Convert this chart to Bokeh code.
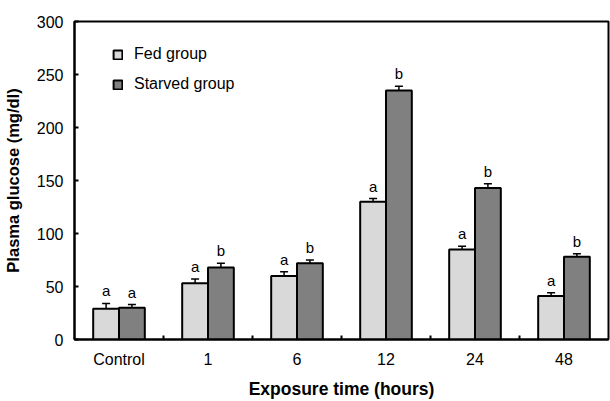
from bokeh.plotting import figure
from bokeh.models import (ColumnDataSource, Whisker, TeeHead, FixedTicker, Range1d, Legend)
from bokeh.transform import dodge
from bokeh.core.properties import value
from bokeh.embed import file_html
from bokeh.resources import INLINE
import numpy as np

categories = ["Control", "1", "6", "12", "24", "48"]
fed = [29, 53, 60, 130, 85, 41]
fed_err = [5, 4, 4, 3, 3, 3]
starved = [30, 68, 72, 235, 143, 78]
starved_err = [3, 4, 3, 4, 4, 3]
fed_letters = ["a", "a", "a", "a", "a", "a"]
starved_letters = ["a", "b", "b", "b", "b", "b"]
y_ticks = [0, 50, 100, 150, 200, 250, 300]

FONT = "Liberation Sans"
FED_COLOR = "#d9d9d9"
STARVED_COLOR = "#808080"
BAR_W = 0.29
OFF = BAR_W / 2

n = len(categories)
xc = np.arange(n) + 0.5
src = ColumnDataSource(dict(
    x=xc,
    fed=fed, fed_up=np.array(fed) + np.array(fed_err), fed_lo=np.array(fed) - np.array(fed_err),
    st=starved, st_up=np.array(starved) + np.array(starved_err), st_lo=np.array(starved) - np.array(starved_err),
    fed_l=fed_letters, st_l=starved_letters,
))

p = figure(width=610, height=401, output_backend="svg", toolbar_location=None,
           x_range=Range1d(0, n), y_range=Range1d(0, 300),
           min_border_left=74, min_border_right=2, min_border_top=21, min_border_bottom=62)
p.xgrid.visible = False
p.ygrid.visible = False
p.outline_line_color = "black"
p.outline_line_width = 2
p.background_fill_color = "white"
p.border_fill_color = "white"

r1 = p.vbar(x=dodge("x", -OFF), top="fed", width=BAR_W, bottom=0, source=src,
            fill_color=FED_COLOR, line_color="black", line_width=2)
r2 = p.vbar(x=dodge("x", OFF), top="st", width=BAR_W, bottom=0, source=src,
            fill_color=STARVED_COLOR, line_color="black", line_width=2)

for xs, up, lo in [(dodge("x", -OFF), "fed_up", "fed_lo"), (dodge("x", OFF), "st_up", "st_lo")]:
    w = Whisker(source=src, base=xs, upper=up, lower=lo, line_width=1.5, line_color="black",
                upper_head=TeeHead(size=8, line_width=1.5, line_color="black"),
                lower_head=TeeHead(size=8, line_width=1.5, line_color="black"))
    p.add_layout(w)

p.text(x=dodge("x", -OFF), y="fed_up", text="fed_l", source=src, text_align="center",
       text_baseline="bottom", y_offset=-4, text_font=value(FONT), text_font_size="15px", text_color="black")
p.text(x=dodge("x", OFF), y="st_up", text="st_l", source=src, text_align="center",
       text_baseline="bottom", y_offset=-4, text_font=value(FONT), text_font_size="15px", text_color="black")

# axes
xa = p.xaxis[0]
xa.ticker = FixedTicker(ticks=list(xc), minor_ticks=list(np.arange(1, n)))
xa.major_label_overrides = {float(v): c for v, c in zip(xc, categories)}
xa.major_tick_line_color = None
xa.minor_tick_in = 4
xa.minor_tick_out = 0
xa.minor_tick_line_width = 2
xa.minor_tick_line_color = "black"
xa.axis_line_width = 2
xa.axis_line_color = "black"
xa.major_label_text_font = FONT
xa.major_label_text_font_size = "16px"
xa.major_label_text_color = "black"
xa.major_label_standoff = 5
xa.axis_label = "Exposure time (hours)"
xa.axis_label_text_font = FONT
xa.axis_label_text_font_size = "17.5px"
xa.axis_label_text_font_style = "bold"
xa.axis_label_text_color = "black"
xa.axis_label_standoff = 8

ya = p.yaxis[0]
ya.ticker = FixedTicker(ticks=y_ticks)
ya.minor_tick_line_color = None
ya.major_tick_in = 4
ya.major_tick_out = 0
ya.major_tick_line_width = 2
ya.major_tick_line_color = "black"
ya.axis_line_width = 2
ya.axis_line_color = "black"
ya.major_label_text_font = FONT
ya.major_label_text_font_size = "16px"
ya.major_label_text_color = "black"
ya.major_label_standoff = 11
ya.axis_label = "Plasma glucose (mg/dl)"
ya.axis_label_text_font = FONT
ya.axis_label_text_font_size = "16.5px"
ya.axis_label_text_font_style = "bold"
ya.axis_label_text_color = "black"
ya.axis_label_standoff = 12

legend = Legend(items=[("Fed group", [r1]), ("Starved group", [r2])],
                location=(38, 246), orientation="vertical")
legend.border_line_alpha = 0
legend.background_fill_alpha = 0
legend.padding = 0
legend.margin = 0
legend.spacing = 12
legend.glyph_width = 11
legend.glyph_height = 11
legend.label_standoff = 11
legend.label_text_font = FONT
legend.label_text_font_size = "16px"
legend.label_text_color = "black"
p.add_layout(legend)

open("out.html", "w").write(file_html(p, INLINE))
